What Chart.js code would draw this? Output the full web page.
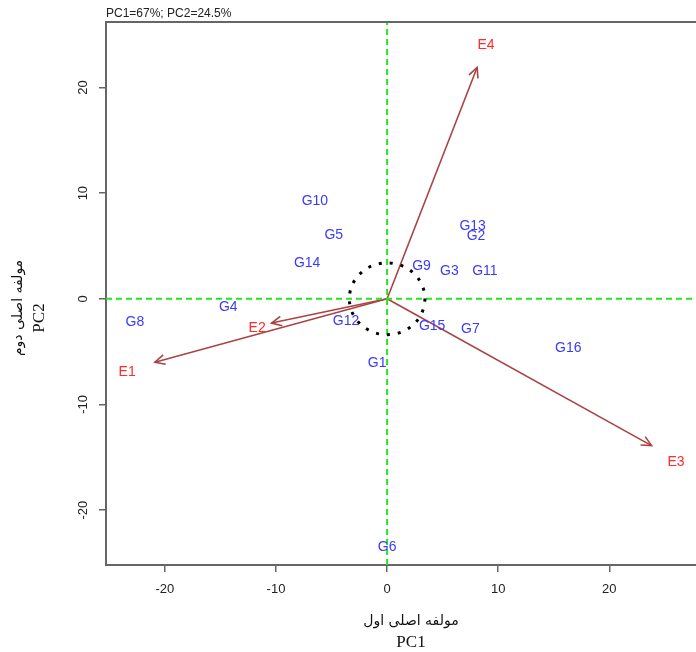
<!DOCTYPE html>
<html><head><meta charset="utf-8">
<script src="https://cdn.jsdelivr.net/npm/chart.js@4.4.1/dist/chart.umd.min.js"></script>
<style>html,body{margin:0;padding:0;background:#fff;overflow:hidden}#wrap{width:696px;height:652px;position:relative}</style>
</head><body><div id="wrap"><canvas id="c" width="696" height="652"></canvas></div>
<script>
// ---- data ----
const genoNames = ['G1','G2','G3','G4','G5','G6','G7','G8','G9','G10','G11','G12','G13','G14','G15','G16'];
const genoX = [-0.9, 8.0, 5.6, -14.3, -4.8, 0.0, 7.5, -22.7, 3.1, -6.5, 8.8, -3.7, 7.7, -7.2, 4.05, 16.3];
const genoY = [-6.05, 5.9, 2.65, -0.75, 6.0, -23.5, -2.9, -2.2, 3.1, 9.2, 2.65, -2.1, 6.9, 3.4, -2.55, -4.7];
const envNames = ['E1','E2','E3','E4'];
const envX = [-20.9, -10.4, 23.8, 8.1];
const envY = [-6.0, -2.3, -13.9, 21.9];
const envLabelX = [-23.4, -11.7, 26.0, 8.9];
const envLabelY = [-6.9, -2.8, -15.5, 24.0];
const xTickValues = [-20, -10, 0, 10, 20];
const yTickValues = [-20, -10, 0, 10, 20];
const circleRadius = 3.4;
const X_MIN = -25.3, X_MAX = 27.8, Y_MIN = -25.2, Y_MAX = 26.2;
const titleText = 'PC1=67%; PC2=24.5%';
const xTitleFa = 'مولفه اصلی اول', xTitleEn = 'PC1';
const yTitleFa = 'مولفه اصلی دوم', yTitleEn = 'PC2';

const GREEN = '#22e622', ARROW = '#a84444', BLUE = '#3a3aff', RED = '#ff2a2a', AXIS = '#666';

const datasets = [
  {label:'h0', data:[{x:X_MIN,y:0},{x:X_MAX,y:0}], showLine:true, borderColor:GREEN, borderWidth:2, borderDash:[6,4], pointRadius:0},
  {label:'v0', data:[{x:0,y:Y_MIN},{x:0,y:Y_MAX}], showLine:true, borderColor:GREEN, borderWidth:2, borderDash:[6,4], pointRadius:0}
];
envNames.forEach((n,i)=>{
  datasets.push({label:n, isArrow:true, data:[{x:0,y:0},{x:envX[i],y:envY[i]}], showLine:true, borderColor:ARROW, borderWidth:1.6, pointRadius:0});
});
datasets.push({label:'geno', isGeno:true, data:genoX.map((x,i)=>({x, y:genoY[i]})), pointRadius:0, showLine:false});
datasets.push({label:'envLab', isEnvLab:true, data:envLabelX.map((x,i)=>({x, y:envLabelY[i]})), pointRadius:0, showLine:false});

const extras = {
  id:'extras',
  afterDatasetsDraw(chart){
    const c = chart.ctx, ca = chart.chartArea, xs = chart.scales.x, ys = chart.scales.y;
    c.save();
    c.beginPath(); c.rect(ca.left, ca.top, ca.right-ca.left, ca.bottom-ca.top); c.clip();
    // circle
    const cx = xs.getPixelForValue(0), cy = ys.getPixelForValue(0);
    const rx = Math.abs(xs.getPixelForValue(circleRadius)-cx), ry = Math.abs(ys.getPixelForValue(circleRadius)-cy);
    c.beginPath(); c.setLineDash([3,8]); c.lineWidth = 3; c.strokeStyle = '#000';
    c.ellipse(cx, cy, rx, ry, 0, 0, Math.PI*2); c.stroke(); c.setLineDash([]);
    // arrowheads
    chart.data.datasets.forEach((ds,di)=>{
      if(!ds.isArrow) return;
      const pts = chart.getDatasetMeta(di).data;
      const x0 = pts[0].x, y0 = pts[0].y, x1 = pts[1].x, y1 = pts[1].y;
      const a = Math.atan2(y1-y0, x1-x0), L = 11, w = Math.PI/7;
      c.beginPath(); c.strokeStyle = ARROW; c.lineWidth = 1.6;
      c.moveTo(x1 - L*Math.cos(a-w), y1 - L*Math.sin(a-w)); c.lineTo(x1, y1);
      c.lineTo(x1 - L*Math.cos(a+w), y1 - L*Math.sin(a+w)); c.stroke();
    });
    // labels
    c.textAlign = 'center'; c.textBaseline = 'middle'; c.font = '14px "Liberation Sans", Arial, sans-serif';
    chart.data.datasets.forEach((ds,di)=>{
      if(!ds.isGeno && !ds.isEnvLab) return;
      const pts = chart.getDatasetMeta(di).data;
      const names = ds.isGeno ? genoNames : envNames;
      c.fillStyle = ds.isGeno ? BLUE : RED;
      pts.forEach((p,i)=>c.fillText(names[i], p.x, p.y));
    });
    c.restore();
  },
  afterDraw(chart){
    const c = chart.ctx, ca = chart.chartArea, ys = chart.scales.y;
    c.save();
    // top border
    c.beginPath(); c.strokeStyle = AXIS; c.lineWidth = 2;
    c.moveTo(ca.left-1, ca.top); c.lineTo(ca.right, ca.top); c.stroke();
    // y tick labels, rotated
    c.fillStyle = '#222'; c.font = '13px "Liberation Sans", Arial, sans-serif';
    c.textAlign = 'center'; c.textBaseline = 'middle';
    ys.ticks.forEach(t=>{
      const py = ys.getPixelForValue(t.value);
      c.save(); c.translate(83, py); c.rotate(-Math.PI/2); c.fillText(String(t.value), 0, 0); c.restore();
    });
    // title
    c.textAlign = 'left'; c.textBaseline = 'alphabetic'; c.font = '12px "Liberation Sans", Arial, sans-serif';
    c.fillStyle = '#222'; c.fillText(titleText, ca.left, 17);
    // axis titles
    const mx = 411;
    c.textAlign = 'center'; c.textBaseline = 'middle';
    c.font = '14px "DejaVu Sans", sans-serif'; c.fillStyle = '#111';
    c.fillText(xTitleFa, mx, 621);
    c.font = '17px "Liberation Serif", "DejaVu Serif", serif';
    c.fillText(xTitleEn, mx, 643);
    c.save(); c.translate(18, 308); c.rotate(-Math.PI/2);
    c.font = '14px "DejaVu Sans", sans-serif'; c.fillText(yTitleFa, 0, 0); c.restore();
    c.save(); c.translate(40, 318); c.rotate(-Math.PI/2);
    c.font = '17px "Liberation Serif", "DejaVu Serif", serif'; c.fillText(yTitleEn, 0, 0); c.restore();
    c.restore();
  }
};

new Chart(document.getElementById('c'), {
  type:'scatter',
  data:{datasets},
  options:{
    responsive:false, animation:false, events:[],
    layout:{padding:{top:22, left:0, right:0, bottom:0}},
    plugins:{legend:{display:false}, tooltip:{enabled:false}, title:{display:false}},
    scales:{
      x:{type:'linear', min:X_MIN, max:X_MAX,
         afterFit(s){ s.height = 87; },
         afterBuildTicks(s){ s.ticks = xTickValues.map(v=>({value:v})); },
         ticks:{font:{family:'"Liberation Sans", Arial, sans-serif', size:13}, color:'#222', padding:10, maxRotation:0},
         grid:{drawOnChartArea:false, drawTicks:true, tickLength:7, color:AXIS, lineWidth:1.5},
         border:{display:true, color:AXIS, width:2}},
      y:{type:'linear', min:Y_MIN, max:Y_MAX,
         afterFit(s){ s.width = 106; },
         afterBuildTicks(s){ s.ticks = yTickValues.map(v=>({value:v})); },
         ticks:{display:false},
         grid:{drawOnChartArea:false, drawTicks:true, tickLength:7, color:AXIS, lineWidth:1.5},
         border:{display:true, color:AXIS, width:2}}
    }
  },
  plugins:[extras]
});
</script></body></html>
